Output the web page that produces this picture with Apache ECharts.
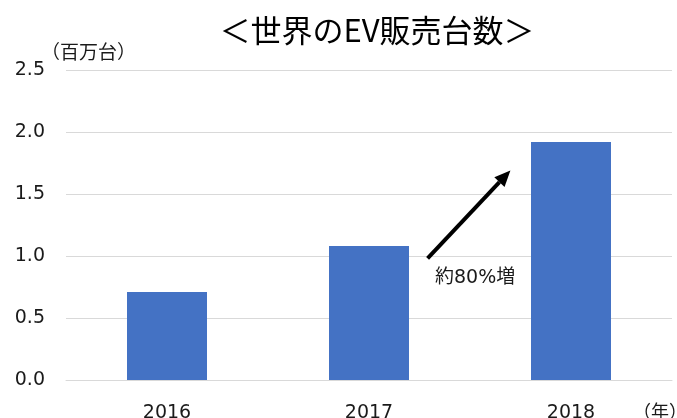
<!DOCTYPE html>
<html>
<head>
<meta charset="utf-8">
<script src="https://cdn.jsdelivr.net/npm/echarts@6/dist/echarts.min.js"></script>
<style>
html, body { margin: 0; padding: 0; background: #fff; }
#chartDiv { width: 677px; height: 418px; }
</style>
</head>
<body>
<div id="chartDiv"></div>
<script>
var years = ["2016", "2017", "2018"];
var salesValues = [0.71, 1.08, 1.92];
var yTicks = [0, 0.5, 1.0, 1.5, 2.0, 2.5];
// arrow "約80%増": [category position, value]
var arrowFrom = [1.29, 0.98];
var arrowTo = [1.70, 1.69];

var jpFont = '"Noto Sans CJK JP", sans-serif';
var numFont = '"DejaVu Sans", "Noto Sans CJK JP", sans-serif';

var evChart = echarts.init(document.getElementById('chartDiv'));

evChart.setOption({
	animation : false,
	title : {
		text : "＜世界のEV販売台数＞",
		left : 372,
		top : 10,
		textAlign : 'center',
		textStyle : {
			fontFamily : jpFont,
			fontSize : 31,
			fontWeight : 'normal',
			color : '#000'
		}
	},
	grid : {
		left : 66,
		right : 5,
		top : 70,
		bottom : 38,
		outerBoundsMode : 'none'
	},
	xAxis : {
		type : 'category',
		data : years,
		axisLine : { lineStyle : { color : '#d9d9d9', width : 1 } },
		axisTick : { show : false },
		axisLabel : {
			margin : 24,
			fontFamily : numFont,
			fontSize : 19,
			color : '#1a1a1a'
		}
	},
	yAxis : {
		type : 'value',
		min : yTicks[0],
		max : yTicks[yTicks.length - 1],
		interval : 0.5,
		axisLine : { show : false },
		axisTick : { show : false },
		splitLine : { lineStyle : { color : '#d9d9d9', width : 1 } },
		axisLabel : {
			margin : 21,
			fontFamily : numFont,
			fontSize : 19,
			color : '#1a1a1a',
			formatter : function(v) { return v.toFixed(1); }
		}
	},
	series : [{
		type : 'bar',
		data : salesValues,
		barWidth : 80,
		itemStyle : { color : '#4472C4' }
	}]
});

// position between categories: interpolate category centres
function toPixel(pt) {
	var i = Math.floor(pt[0]);
	var a = evChart.convertToPixel({ gridIndex : 0 }, [i, pt[1]]);
	var b = evChart.convertToPixel({ gridIndex : 0 }, [i + 1, pt[1]]);
	var f = pt[0] - i;
	return [a[0] + (b[0] - a[0]) * f, a[1]];
}

var p0 = toPixel(arrowFrom);
var p1 = toPixel(arrowTo);
var ang = Math.atan2(p1[1] - p0[1], p1[0] - p0[0]);
var headLen = 16, headW = 7;
var base = [p1[0] - headLen * Math.cos(ang), p1[1] - headLen * Math.sin(ang)];
var nx = -Math.sin(ang), ny = Math.cos(ang);

evChart.setOption({
	graphic : [
		{
			type : 'text',
			left : 41,
			top : 42,
			style : { text : "（百万台）", font : '19px ' + jpFont, fill : '#1a1a1a' }
		},
		{
			type : 'text',
			left : 633,
			top : 402,
			style : { text : "（年）", font : '18px ' + jpFont, fill : '#1a1a1a' }
		},
		{
			type : 'text',
			left : 435,
			top : 269,
			style : { text : "約80%増", font : '19px ' + numFont, fill : '#1a1a1a' }
		},
		{
			type : 'line',
			shape : { x1 : p0[0], y1 : p0[1], x2 : base[0], y2 : base[1] },
			style : { stroke : '#000', lineWidth : 4 }
		},
		{
			type : 'polygon',
			shape : { points : [
				[p1[0], p1[1]],
				[base[0] + nx * headW, base[1] + ny * headW],
				[base[0] - nx * headW, base[1] - ny * headW]
			] },
			style : { fill : '#000' }
		}
	]
});
</script>
</body>
</html>
